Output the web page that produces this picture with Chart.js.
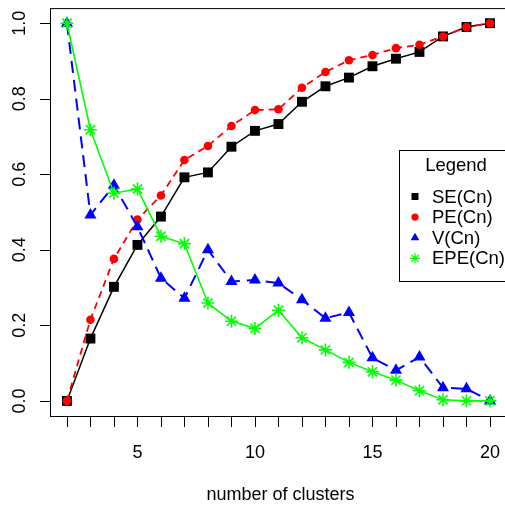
<!DOCTYPE html>
<html>
<head>
<meta charset="utf-8">
<script src="https://cdn.jsdelivr.net/npm/chart.js@4/dist/chart.umd.min.js"></script>
<style>
  html, body { margin: 0; padding: 0; background: #fff; overflow: hidden; }
  #wrap { position: absolute; left: 0; top: 0; width: 515px; height: 509px; }
</style>
</head>
<body>
<div id="wrap"><canvas id="c" width="515" height="509" style="width:515px;height:509px"></canvas></div>
<script>
// number of clusters on the x axis
const clusters = [2, 3, 4, 5, 6, 7, 8, 9, 10, 11, 12, 13, 14, 15, 16, 17, 18, 19, 20];
const seCn  = [0, 0.165, 0.302, 0.413, 0.488, 0.592, 0.605, 0.673, 0.715, 0.733, 0.792, 0.833, 0.856, 0.886, 0.906, 0.924, 0.965, 0.990, 1.0];
const peCn  = [0, 0.215, 0.376, 0.480, 0.544, 0.638, 0.675, 0.728, 0.770, 0.772, 0.829, 0.871, 0.902, 0.916, 0.934, 0.943, 0.965, 0.990, 1.0];
const vCn   = [1.0, 0.492, 0.571, 0.461, 0.325, 0.272, 0.400, 0.316, 0.320, 0.312, 0.268, 0.219, 0.234, 0.114, 0.081, 0.116, 0.035, 0.032, 0];
const epeCn = [1.0, 0.718, 0.550, 0.561, 0.436, 0.416, 0.259, 0.211, 0.192, 0.240, 0.167, 0.135, 0.102, 0.077, 0.055, 0.027, 0.003, 0, 0];

const xTicks = clusters;
const xLabels = [5, 10, 15, 20];
const yTicks = [0, 0.2, 0.4, 0.6, 0.8, 1.0];
const legendNames = ["SE(Cn)", "PE(Cn)", "V(Cn)", "EPE(Cn)"];

const FONT = '"Liberation Sans", Arial, Helvetica, sans-serif';

function toPoints(values) {
  return clusters.map((x, i) => ({ x: x, y: values[i] }));
}

// marker drawn by hand for the legend
function drawMarker(ctx, style, color, x, y) {
  ctx.save();
  ctx.fillStyle = color;
  ctx.strokeStyle = color;
  ctx.beginPath();
  if (style === "rect") {
    ctx.rect(x - 3.5, y - 3.5, 7, 7);
    ctx.fill();
  } else if (style === "circle") {
    ctx.arc(x, y, 3.6, 0, Math.PI * 2);
    ctx.fill();
  } else if (style === "triangle") {
    const r = 5;
    ctx.moveTo(x, y - r);
    ctx.lineTo(x + r * 0.866, y + r / 2);
    ctx.lineTo(x - r * 0.866, y + r / 2);
    ctx.closePath();
    ctx.fill();
  } else if (style === "star") {
    const r = 5;
    ctx.lineWidth = 1.2;
    for (let k = 0; k < 4; k++) {
      const a = k * Math.PI / 4;
      ctx.moveTo(x - Math.sin(a) * r, y - Math.cos(a) * r);
      ctx.lineTo(x + Math.sin(a) * r, y + Math.cos(a) * r);
    }
    ctx.stroke();
  }
  ctx.restore();
}

const axesPlugin = {
  id: "rAxes",
  afterDatasetsDraw(chart) {
    const ctx = chart.ctx;
    const area = chart.chartArea;
    const xs = chart.scales.x;
    const ys = chart.scales.y;
    ctx.save();
    ctx.strokeStyle = "#000";
    ctx.lineWidth = 1;
    ctx.strokeRect(area.left + 0.5, area.top + 0.5, area.right - area.left, area.bottom - area.top);

    // x ticks
    ctx.fillStyle = "#000";
    ctx.font = "18px " + FONT;
    ctx.textAlign = "center";
    ctx.textBaseline = "middle";
    xTicks.forEach(v => {
      const px = Math.round(xs.getPixelForValue(v)) + 0.5;
      ctx.beginPath();
      ctx.moveTo(px, area.bottom + 1);
      ctx.lineTo(px, area.bottom + 11);
      ctx.stroke();
    });
    xLabels.forEach(v => {
      ctx.fillText(String(v), xs.getPixelForValue(v), area.bottom + 37);
    });
    ctx.fillText("number of clusters", (xs.getPixelForValue(2) + xs.getPixelForValue(20)) / 2 + 2, area.bottom + 79);

    // y ticks, labels turned like R does
    yTicks.forEach(v => {
      const py = Math.round(ys.getPixelForValue(v)) + 0.5;
      ctx.beginPath();
      ctx.moveTo(area.left, py);
      ctx.lineTo(area.left - 10, py);
      ctx.stroke();
      ctx.save();
      ctx.translate(area.left - 30, ys.getPixelForValue(v));
      ctx.rotate(-Math.PI / 2);
      ctx.fillText(v.toFixed(1), 0, 0);
      ctx.restore();
    });

    // legend box
    const lx = 399, ly = 150, lw = 120, lh = 131;
    ctx.fillStyle = "#fff";
    ctx.fillRect(lx, ly, lw, lh);
    ctx.strokeRect(lx + 0.5, ly + 0.5, lw, lh);
    ctx.fillStyle = "#000";
    ctx.font = "18.5px " + FONT;
    ctx.textAlign = "center";
    ctx.fillText("Legend", 456, 166);
    ctx.textAlign = "left";
    chart.data.datasets.forEach((ds, i) => {
      const yy = 196.5 + i * 20.6;
      drawMarker(ctx, ds.pointStyle, ds.pointBackgroundColor === "transparent" ? ds.borderColor : ds.pointBackgroundColor, 415, yy);
      ctx.fillStyle = "#000";
      ctx.fillText(legendNames[i], 432, yy + 1);
    });
    ctx.restore();
  }
};

new Chart(document.getElementById("c"), {
  type: "line",
  data: {
    datasets: [
      {
        label: legendNames[0], data: toPoints(seCn), order: 4,
        borderColor: "#000", borderWidth: 1.5,
        pointStyle: "rect", pointRadius: 7, pointBackgroundColor: "#000", pointBorderColor: "#000", pointBorderWidth: 0
      },
      {
        label: legendNames[1], data: toPoints(peCn), order: 3,
        borderColor: "#ff0000", borderWidth: 1.8, borderDash: [7, 5],
        pointStyle: "circle", pointRadius: 4.3, pointBackgroundColor: "#ff0000", pointBorderColor: "#ff0000", pointBorderWidth: 0
      },
      {
        label: legendNames[2], data: toPoints(vCn), order: 2,
        borderColor: "#0000ff", borderWidth: 2, borderDash: [12, 7],
        pointStyle: "triangle", pointRadius: 7, pointBackgroundColor: "#0000ff", pointBorderColor: "#0000ff", pointBorderWidth: 0
      },
      {
        label: legendNames[3], data: toPoints(epeCn), order: 1,
        borderColor: "#00ff00", borderWidth: 1.6,
        pointStyle: "star", pointRadius: 6.5, pointBackgroundColor: "transparent", pointBorderColor: "#00ff00", pointBorderWidth: 1.6
      }
    ]
  },
  options: {
    responsive: false,
    animation: false,
    devicePixelRatio: 1,
    layout: { padding: { left: 50, top: 7, right: 4, bottom: 93 } },
    elements: { line: { tension: 0 } },
    plugins: { legend: { display: false }, tooltip: { enabled: false } },
    scales: {
      x: { type: "linear", display: false, min: 1.28, max: 20.72 },
      y: { type: "linear", display: false, min: -0.04, max: 1.04 }
    }
  },
  plugins: [axesPlugin]
});
</script>
</body>
</html>
